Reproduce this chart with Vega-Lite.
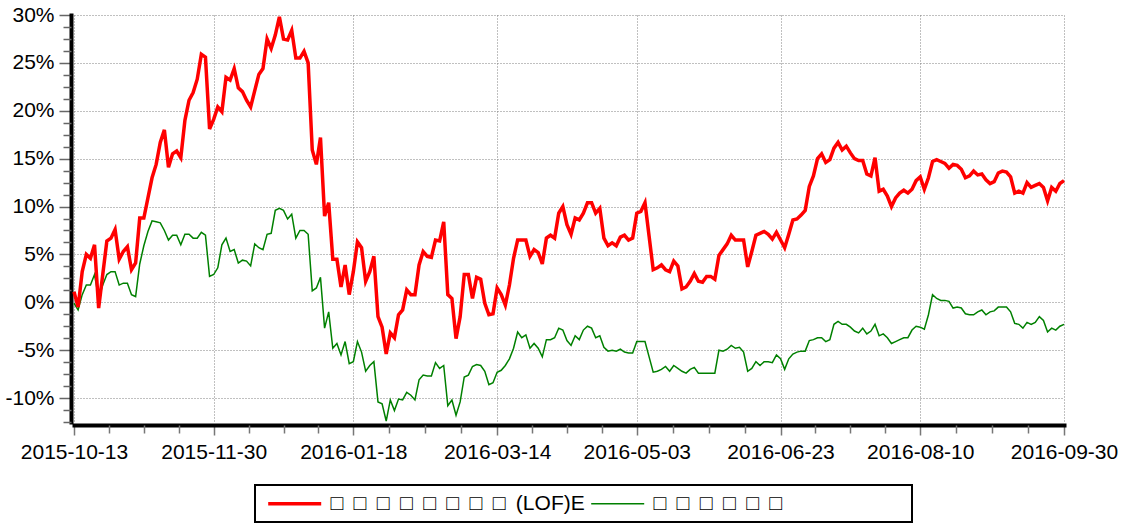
{
  "$schema": "https://vega.github.io/schema/vega-lite/v6.json",
  "autosize": {"type": "none"},
  "width": 990,
  "height": 407,
  "padding": {"left": 74, "top": 15, "right": 59, "bottom": 103},
  "background": "white",
  "config": {
    "font": "Liberation Sans",
    "view": {"stroke": null}
  },
  "data": {"values": [
    {"i":0,"a":1.1,"b":-0.1},{"i":1,"a":-0.5,"b":-0.8},{"i":2,"a":3.2,"b":0.8},{"i":3,"a":5.0,"b":1.8},{"i":4,"a":4.6,"b":1.8},
    {"i":5,"a":6.0,"b":2.9},{"i":6,"a":-0.6,"b":0.4},{"i":7,"a":2.9,"b":1.8},{"i":8,"a":6.4,"b":2.9},{"i":9,"a":6.7,"b":3.2},
    {"i":10,"a":7.6,"b":3.2},{"i":11,"a":4.5,"b":1.8},{"i":12,"a":5.3,"b":2.0},{"i":13,"a":5.8,"b":2.0},{"i":14,"a":3.4,"b":0.8},
    {"i":15,"a":4.1,"b":0.6},{"i":16,"a":8.8,"b":4.0},{"i":17,"a":8.8,"b":5.9},{"i":18,"a":10.9,"b":7.4},{"i":19,"a":13.0,"b":8.5},
    {"i":20,"a":14.4,"b":8.4},{"i":21,"a":16.7,"b":8.3},{"i":22,"a":18.0,"b":7.5},{"i":23,"a":14.1,"b":6.5},{"i":24,"a":15.5,"b":7.0},
    {"i":25,"a":15.8,"b":7.0},{"i":26,"a":15.1,"b":6.0},{"i":27,"a":19.0,"b":7.1},{"i":28,"a":21.1,"b":7.1},{"i":29,"a":21.9,"b":6.7},
    {"i":30,"a":23.3,"b":6.7},{"i":31,"a":25.9,"b":7.3},{"i":32,"a":25.6,"b":7.0},{"i":33,"a":18.1,"b":2.7},{"i":34,"a":19.1,"b":2.9},
    {"i":35,"a":20.4,"b":3.6},{"i":36,"a":19.9,"b":6.0},{"i":37,"a":23.5,"b":6.7},{"i":38,"a":23.2,"b":5.3},{"i":39,"a":24.4,"b":5.5},
    {"i":40,"a":22.4,"b":4.1},{"i":41,"a":22.0,"b":4.4},{"i":42,"a":21.1,"b":4.3},{"i":43,"a":20.4,"b":3.8},{"i":44,"a":22.1,"b":6.1},
    {"i":45,"a":23.8,"b":5.7},{"i":46,"a":24.4,"b":5.5},{"i":47,"a":27.5,"b":7.1},{"i":48,"a":26.5,"b":7.2},{"i":49,"a":27.9,"b":9.6},
    {"i":50,"a":29.8,"b":9.8},{"i":51,"a":27.5,"b":9.6},{"i":52,"a":27.4,"b":8.7},{"i":53,"a":28.4,"b":9.2},{"i":54,"a":25.5,"b":6.7},
    {"i":55,"a":25.5,"b":7.5},{"i":56,"a":26.2,"b":7.5},{"i":57,"a":25.0,"b":7.1},{"i":58,"a":15.9,"b":1.2},{"i":59,"a":14.4,"b":1.5},
    {"i":60,"a":17.2,"b":2.6},{"i":61,"a":9.0,"b":-2.7},{"i":62,"a":10.4,"b":-1.0},{"i":63,"a":4.5,"b":-4.8},{"i":64,"a":4.5,"b":-4.3},
    {"i":65,"a":1.6,"b":-5.5},{"i":66,"a":3.9,"b":-4.1},{"i":67,"a":0.8,"b":-6.4},{"i":68,"a":3.2,"b":-6.2},{"i":69,"a":6.3,"b":-4.1},
    {"i":70,"a":5.7,"b":-5.2},{"i":71,"a":2.2,"b":-7.2},{"i":72,"a":3.2,"b":-6.6},{"i":73,"a":4.8,"b":-6.2},{"i":74,"a":-1.5,"b":-10.4},
    {"i":75,"a":-2.6,"b":-10.6},{"i":76,"a":-5.4,"b":-12.4},{"i":77,"a":-3.2,"b":-10.2},{"i":78,"a":-3.7,"b":-11.3},{"i":79,"a":-1.3,"b":-10.1},
    {"i":80,"a":-0.8,"b":-10.2},{"i":81,"a":1.3,"b":-9.4},{"i":82,"a":0.8,"b":-9.7},{"i":83,"a":0.8,"b":-10.2},{"i":84,"a":3.9,"b":-8.1},
    {"i":85,"a":5.3,"b":-7.6},{"i":86,"a":4.8,"b":-7.7},{"i":87,"a":4.7,"b":-7.7},{"i":88,"a":6.5,"b":-6.3},{"i":89,"a":6.4,"b":-6.9},
    {"i":90,"a":8.4,"b":-6.6},{"i":91,"a":0.8,"b":-10.8},{"i":92,"a":0.4,"b":-10.2},{"i":93,"a":-3.8,"b":-11.8},{"i":94,"a":-1.5,"b":-10.4},
    {"i":95,"a":2.9,"b":-7.8},{"i":96,"a":2.9,"b":-7.6},{"i":97,"a":0.4,"b":-6.7},{"i":98,"a":2.6,"b":-6.5},{"i":99,"a":2.4,"b":-6.6},
    {"i":100,"a":-0.1,"b":-7.2},{"i":101,"a":-1.3,"b":-8.6},{"i":102,"a":-1.2,"b":-8.4},{"i":103,"a":1.5,"b":-7.3},{"i":104,"a":0.8,"b":-7.1},
    {"i":105,"a":-0.3,"b":-6.6},{"i":106,"a":1.8,"b":-5.9},{"i":107,"a":4.6,"b":-4.8},{"i":108,"a":6.5,"b":-3.1},{"i":109,"a":6.5,"b":-3.7},
    {"i":110,"a":6.5,"b":-3.4},{"i":111,"a":4.8,"b":-4.8},{"i":112,"a":5.5,"b":-4.3},{"i":113,"a":5.2,"b":-4.8},{"i":114,"a":4.0,"b":-5.7},
    {"i":115,"a":6.7,"b":-3.9},{"i":116,"a":7.0,"b":-3.9},{"i":117,"a":6.7,"b":-3.7},{"i":118,"a":9.3,"b":-2.7},{"i":119,"a":10.0,"b":-2.9},
    {"i":120,"a":8.1,"b":-4.0},{"i":121,"a":7.1,"b":-4.5},{"i":122,"a":8.8,"b":-3.5},{"i":123,"a":8.6,"b":-3.9},{"i":124,"a":9.3,"b":-2.9},
    {"i":125,"a":10.4,"b":-2.5},{"i":126,"a":10.4,"b":-2.7},{"i":127,"a":9.3,"b":-3.7},{"i":128,"a":9.8,"b":-3.5},{"i":129,"a":6.7,"b":-4.7},
    {"i":130,"a":5.9,"b":-5.1},{"i":131,"a":6.2,"b":-5.0},{"i":132,"a":5.9,"b":-5.1},{"i":133,"a":6.8,"b":-4.9},{"i":134,"a":7.0,"b":-5.2},
    {"i":135,"a":6.5,"b":-5.3},{"i":136,"a":6.7,"b":-5.3},{"i":137,"a":9.3,"b":-4.1},{"i":138,"a":9.5,"b":-4.1},{"i":139,"a":10.4,"b":-4.1},
    {"i":140,"a":6.9,"b":-5.7},{"i":141,"a":3.4,"b":-7.3},{"i":142,"a":3.6,"b":-7.2},{"i":143,"a":3.9,"b":-7.0},{"i":144,"a":3.4,"b":-6.7},
    {"i":145,"a":3.2,"b":-7.2},{"i":146,"a":4.3,"b":-6.6},{"i":147,"a":3.8,"b":-6.9},{"i":148,"a":1.4,"b":-7.2},{"i":149,"a":1.6,"b":-7.4},
    {"i":150,"a":2.2,"b":-7.0},{"i":151,"a":3.0,"b":-6.8},{"i":152,"a":2.2,"b":-7.4},{"i":153,"a":2.1,"b":-7.4},{"i":154,"a":2.7,"b":-7.4},
    {"i":155,"a":2.7,"b":-7.4},{"i":156,"a":2.4,"b":-7.4},{"i":157,"a":4.9,"b":-5.0},{"i":158,"a":5.5,"b":-5.1},{"i":159,"a":6.1,"b":-4.9},
    {"i":160,"a":7.0,"b":-4.5},{"i":161,"a":6.5,"b":-4.8},{"i":162,"a":6.5,"b":-4.7},{"i":163,"a":6.5,"b":-5.2},{"i":164,"a":3.7,"b":-7.2},
    {"i":165,"a":5.3,"b":-6.9},{"i":166,"a":7.0,"b":-6.2},{"i":167,"a":7.2,"b":-6.6},{"i":168,"a":7.4,"b":-6.2},{"i":169,"a":7.1,"b":-6.2},
    {"i":170,"a":6.6,"b":-6.3},{"i":171,"a":7.3,"b":-5.5},{"i":172,"a":6.5,"b":-5.9},{"i":173,"a":5.7,"b":-7.0},{"i":174,"a":7.1,"b":-5.9},
    {"i":175,"a":8.6,"b":-5.4},{"i":176,"a":8.7,"b":-5.2},{"i":177,"a":9.1,"b":-5.1},{"i":178,"a":9.6,"b":-5.1},{"i":179,"a":12.1,"b":-4.0},
    {"i":180,"a":13.2,"b":-3.9},{"i":181,"a":15.0,"b":-3.7},{"i":182,"a":15.5,"b":-3.7},{"i":183,"a":14.6,"b":-4.1},{"i":184,"a":14.9,"b":-3.9},
    {"i":185,"a":16.1,"b":-2.3},{"i":186,"a":16.7,"b":-2.0},{"i":187,"a":15.9,"b":-2.3},{"i":188,"a":16.3,"b":-2.3},{"i":189,"a":15.6,"b":-2.6},
    {"i":190,"a":15.0,"b":-3.0},{"i":191,"a":14.8,"b":-3.2},{"i":192,"a":14.8,"b":-2.7},{"i":193,"a":13.4,"b":-3.3},{"i":194,"a":13.2,"b":-3.0},
    {"i":195,"a":15.1,"b":-2.3},{"i":196,"a":11.6,"b":-3.5},{"i":197,"a":11.8,"b":-3.3},{"i":198,"a":11.1,"b":-3.7},{"i":199,"a":10.0,"b":-4.3},
    {"i":200,"a":10.9,"b":-4.1},{"i":201,"a":11.4,"b":-3.9},{"i":202,"a":11.7,"b":-3.7},{"i":203,"a":11.4,"b":-3.7},{"i":204,"a":11.8,"b":-2.9},
    {"i":205,"a":12.7,"b":-2.5},{"i":206,"a":13.1,"b":-2.6},{"i":207,"a":11.8,"b":-2.8},{"i":208,"a":13.0,"b":-1.3},{"i":209,"a":14.7,"b":0.8},
    {"i":210,"a":14.9,"b":0.4},{"i":211,"a":14.7,"b":0.2},{"i":212,"a":14.5,"b":0.2},{"i":213,"a":14.0,"b":0.1},{"i":214,"a":14.4,"b":-0.6},
    {"i":215,"a":14.3,"b":-0.5},{"i":216,"a":13.9,"b":-0.6},{"i":217,"a":13.0,"b":-1.2},{"i":218,"a":13.2,"b":-1.3},{"i":219,"a":13.7,"b":-1.3},
    {"i":220,"a":13.3,"b":-1.0},{"i":221,"a":13.4,"b":-0.8},{"i":222,"a":12.8,"b":-1.3},{"i":223,"a":12.4,"b":-1.0},{"i":224,"a":12.6,"b":-0.9},
    {"i":225,"a":13.5,"b":-0.5},{"i":226,"a":13.7,"b":-0.5},{"i":227,"a":13.6,"b":-0.5},{"i":228,"a":13.1,"b":-1.0},{"i":229,"a":11.4,"b":-2.2},
    {"i":230,"a":11.6,"b":-2.3},{"i":231,"a":11.4,"b":-2.7},{"i":232,"a":12.5,"b":-2.1},{"i":233,"a":12.0,"b":-2.3},{"i":234,"a":12.2,"b":-2.1},
    {"i":235,"a":12.4,"b":-1.5},{"i":236,"a":12.0,"b":-1.9},{"i":237,"a":10.6,"b":-3.1},{"i":238,"a":12.0,"b":-2.7},{"i":239,"a":11.6,"b":-2.9},
    {"i":240,"a":12.4,"b":-2.5},{"i":241,"a":12.7,"b":-2.3}
  ]},
  "transform": [{"fold": ["a", "b"], "as": ["s", "v"]}],
  "encoding": {
    "color": {
      "field": "s", "type": "nominal",
      "scale": {"domain": ["a", "b"], "range": ["#ff0000", "#008000"]},
      "legend": {
        "title": null, "orient": "none", "legendX": 181, "legendY": 470,
        "direction": "horizontal", "columns": 2, "gridAlign": "each",
        "padding": 8, "columnPadding": 1, "labelOffset": 46.4,
        "symbolType": "M-1,0H9", "symbolSize": 112.36,
        "labelFontSize": 21, "labelColor": "black", "labelFont": "Liberation Sans", "labelLimit": 600,
        "strokeColor": "black", "fillColor": "white",
        "labelExpr": "datum.label == 'a' ? '□\u2002□\u2002□\u2002□\u2002□\u2002□\u2002□\u2002□\u2002(LOF)E' : '□\u2002□\u2002□\u2002□\u2002□\u2002□\u2002\u2002\u2002\u2002\u2002\u2002\u2002\u2002\u2002\u2002\u2002\u00a0\u200b'",
        "encode": {"legend": {"update": {"strokeWidth": {"value": 2}}}}
      }
    },
    "strokeWidth": {
      "field": "s", "type": "nominal",
      "scale": {"domain": ["a", "b"], "range": [3.5, 1.5]},
      "legend": {
        "title": null, "orient": "none", "legendX": 181, "legendY": 470,
        "direction": "horizontal", "columns": 2, "gridAlign": "each",
        "padding": 8, "columnPadding": 1, "labelOffset": 46.4,
        "symbolType": "M-1,0H9", "symbolSize": 112.36,
        "labelFontSize": 21, "labelColor": "black", "labelFont": "Liberation Sans", "labelLimit": 600,
        "strokeColor": "black", "fillColor": "white",
        "labelExpr": "datum.label == 'a' ? '□\u2002□\u2002□\u2002□\u2002□\u2002□\u2002□\u2002□\u2002(LOF)E' : '□\u2002□\u2002□\u2002□\u2002□\u2002□\u2002\u2002\u2002\u2002\u2002\u2002\u2002\u2002\u2002\u2002\u2002\u00a0\u200b'",
        "encode": {"legend": {"update": {"strokeWidth": {"value": 2}}}}
      }
    }
  },
  "resolve": {"axis": {"x": "independent", "y": "independent"}},
  "layer": [
    {
      "transform": [{"filter": "datum.s == 'b'"}],
      "mark": {"type": "line"},
      "encoding": {
        "x": {
          "field": "i", "type": "quantitative",
          "scale": {"domain": [0, 241], "nice": false, "zero": false},
          "axis": {
            "orient": "bottom", "title": null,
            "values": [0, 34, 68, 103, 137, 172, 206, 241],
            "labelExpr": "datum.value == 0 ? '2015-10-13' : datum.value == 34 ? '2015-11-30' : datum.value == 68 ? '2016-01-18' : datum.value == 103 ? '2016-03-14' : datum.value == 137 ? '2016-05-03' : datum.value == 172 ? '2016-06-23' : datum.value == 206 ? '2016-08-10' : '2016-09-30'",
            "labelFontSize": 21, "labelColor": "black", "labelFont": "Liberation Sans",
            "labelOverlap": false, "labelFlush": false, "labelBound": false,
            "labelPadding": 6, "offset": 3,
            "domainColor": "black", "domainWidth": 4, "domainCap": "square",
            "tickColor": "#777777", "tickWidth": 1.5, "tickSize": 10,
            "grid": true, "gridColor": "#808080", "gridDash": [1, 2], "gridWidth": 1
          }
        },
        "y": {
          "field": "v", "type": "quantitative",
          "scale": {"domain": [-12.5, 30], "nice": false, "zero": false},
          "axis": {
            "orient": "left", "title": null,
            "values": [-10, -5, 0, 5, 10, 15, 20, 25, 30],
            "labelExpr": "datum.value + '%'",
            "labelFontSize": 21, "labelColor": "black", "labelFont": "Liberation Sans",
            "labelOverlap": false, "labelFlush": false, "labelBound": false,
            "labelPadding": 5, "offset": 3,
            "domainColor": "black", "domainWidth": 4, "domainCap": "square",
            "tickColor": "#666666", "tickWidth": 1.5, "tickSize": 12,
            "grid": true, "gridColor": "#808080", "gridDash": [1, 2], "gridWidth": 1
          }
        }
      }
    },
    {
      "transform": [{"filter": "datum.s == 'a'"}],
      "mark": {"type": "line"},
      "encoding": {
        "x": {
          "field": "i", "type": "quantitative",
          "scale": {"domain": [0, 241], "nice": false, "zero": false},
          "axis": {
            "orient": "bottom", "title": null,
            "values": [8.5, 17, 25.5, 42.5, 51, 59.5, 76.75, 85.5, 94.25, 111.5, 120, 128.5, 145.75, 154.5, 163.25, 180.5, 189, 197.5, 214.75, 223.5, 232.25],
            "labels": false, "domain": false, "grid": false, "offset": 3,
            "tickColor": "#777777", "tickWidth": 1.5, "tickSize": 8
          }
        },
        "y": {
          "field": "v", "type": "quantitative",
          "scale": {"domain": [-12.5, 30], "nice": false, "zero": false},
          "axis": {
            "orient": "left", "title": null,
            "values": [-12.5, -11.25, -8.75, -7.5, -6.25, -3.75, -2.5, -1.25, 1.25, 2.5, 3.75, 6.25, 7.5, 8.75, 11.25, 12.5, 13.75, 16.25, 17.5, 18.75, 21.25, 22.5, 23.75, 26.25, 27.5, 28.75],
            "labels": false, "domain": false, "grid": false, "offset": 3,
            "tickColor": "#666666", "tickWidth": 1.5, "tickSize": 8
          }
        }
      }
    }
  ]
}
